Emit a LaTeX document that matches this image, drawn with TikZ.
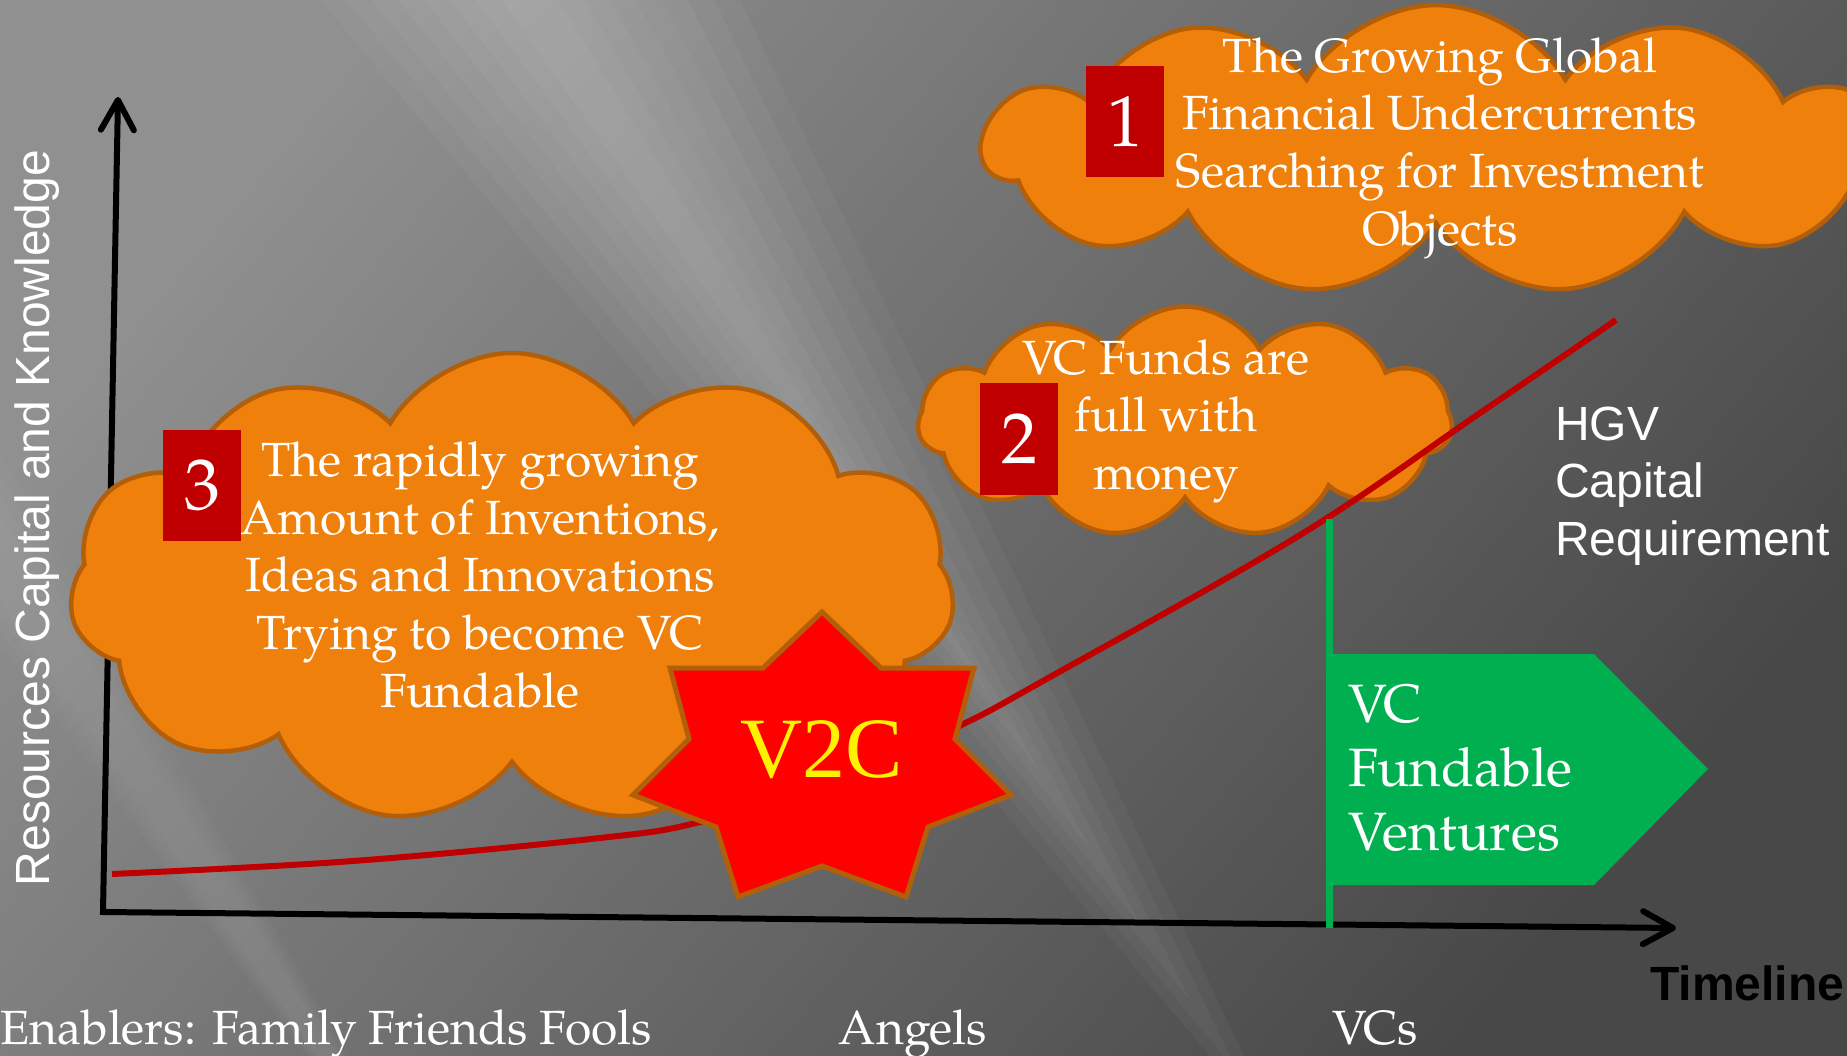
\documentclass[tikz,border=0pt]{standalone}
\usepackage{fontspec}
\setmainfont{TeX Gyre Pagella}
\newfontfamily\arialfont{Liberation Sans}
\newfontfamily\timesfont{Liberation Serif}
\usetikzlibrary{shapes.symbols,arrows.meta}

\definecolor{cldfill}{HTML}{F0800C}
\definecolor{cldline}{HTML}{B35E08}
\definecolor{numred}{HTML}{C00000}
\definecolor{vcgreen}{HTML}{00B050}
\definecolor{bgdark}{HTML}{484848}
\definecolor{bglight}{HTML}{909090}
\newcommand{\fsz}[2]{\fontsize{#1}{#2}\selectfont}

\begin{document}
\begin{tikzpicture}[x=1pt,y=-1pt, >={Straight Barb[length=30pt, width=33pt, round]}]
\tikzstyle{cld}=[cloud, cloud puffs=11, cloud puff arc=120, cloud ignores aspect,
                 draw=cldline, fill=cldfill, line width=4.5pt, inner sep=0pt]
\tikzstyle{numbox}=[fill=numred, text=white, minimum width=78pt, minimum height=111pt,
                    inner sep=0pt, font=\fsz{72}{86}]
\tikzstyle{ctext}=[text=white, align=center, inner sep=0pt, font=\fsz{48}{57.6}]
\tikzstyle{lbl}=[text=white, inner sep=0pt, anchor=base, font=\fsz{48}{57.6}]
\useasboundingbox (0,0) rectangle (1847,1056);
\clip (0,0) rectangle (1847,1056);
% background with soft light rays
\shade[shading=axis, top color=bglight, bottom color=bgdark, shading angle=50]
      (0,0) rectangle (1847,1056);
\foreach \k in {0,...,7}
  \fill[white, opacity=.035] (320+26*\k,0) -- (740-26*\k,0)
       -- ({530+0.66*(1150-75*\k)},{1150-75*\k}) -- cycle;
\foreach \k in {0,...,3}
  \fill[white, opacity=.025] (-480+20*\k,0) -- (-260-20*\k,0)
       -- ({-370+0.66*1300},1300) -- cycle;

% axes
\coordinate (O) at (103,912);
\coordinate (ytop) at (118,97);
\coordinate (xend) at (1676,928);
\draw[line width=6pt, <->] (ytop) -- (O) -- (xend);
\node[lbl, rotate=90, font=\arialfont\fsz{48}{57.6}] (ylab) at (49,518)
     {Resources Capital and Knowledge};
\node[anchor=base west, inner sep=0pt, font=\arialfont\bfseries\fsz{48}{57.6}] (tl) at (1650,1000) {Timeline};

% clouds
\node[cld, minimum width=885pt, minimum height=472pt] (c3) at (512,589) {};
\node[cld, minimum width=905pt, minimum height=290pt] (c1) at (1436,150) {};
\node[cld, minimum width=534pt, minimum height=231pt] (c2) at (1185,422) {};
\node[ctext] (t1) at (1440,148) {The Growing Global\\Financial Undercurrents\\Searching for Investment\\Objects};
\node[ctext] (t2) at (1166,421) {VC Funds are\\full with\\money};
\node[ctext] (t3) at (480,575) {The rapidly growing\\Amount of Inventions,\\Ideas and Innovations\\Trying to become VC\\Fundable};
\node[numbox] (n1) at (1125,122) {1};
\node[numbox] (n2) at (1019,439) {2};
\node[numbox] (n3) at (202,485) {3};

% HGV capital curve
\draw[numred, line width=6pt] plot[smooth, tension=.6] coordinates
     {(112,874) (353,861) (600,838) (700,822) (830,782) (957,727) (1050,677)
      (1300,535) (1480,413) (1616,320)};

% V2C star
\draw[fill=red, draw=cldline, line width=5pt, line join=miter]
     (822,612) -- (881,668) -- (974,668) -- (955,739) -- (1011,795) -- (928,827)
  -- (906,897) -- (822,866) -- (738,897) -- (716,827) -- (633,795) -- (689,739)
  -- (670,668) -- (763,668) -- cycle;
\node[anchor=base, inner sep=0pt, text=yellow, font=\timesfont\fsz{86}{100}] (v2c) at (822,777) {V2C};

% VC fundable ventures
\coordinate (hit) at (1329,519);
\coordinate (foot) at (1329,928);
\draw[vcgreen, line width=7pt] (hit) -- (foot);
\fill[vcgreen] (1326,654) -- (1594,654) -- (1708,769) -- (1594,885) -- (1326,885) -- cycle;
\node[anchor=west, align=left, text=white, inner sep=0pt, font=\fsz{54}{64}] (vcf) at (1348,768)
     {VC\\Fundable\\Ventures};
\node[anchor=west, align=left, text=white, inner sep=0pt, font=\arialfont\fsz{48}{57.5}] (hgv) at (1555,486)
     {HGV\\Capital\\Requirement};

% enablers along the timeline
\node[lbl, anchor=base west] (ff) at (0,1044) {Enablers: Family Friends Fools};
\node[lbl] (ang) at (913,1044) {Angels};
\node[lbl] (vcs) at (1375,1044) {VCs};
\end{tikzpicture}
\end{document}
